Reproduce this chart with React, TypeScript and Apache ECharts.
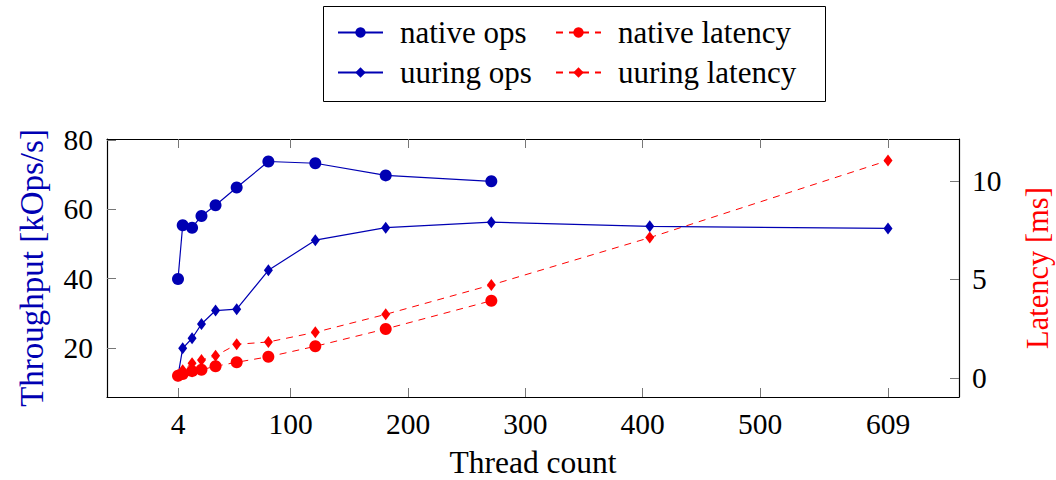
import React, { useEffect, useRef } from "react";
import * as echarts from "echarts";

const threads = [4, 8, 16, 24, 36, 54, 81, 121, 181, 271, 406, 609];
const nativeOps = [39.9, 55.4, 54.7, 58.1, 61.2, 66.3, 73.8, 73.3, 69.8, 68.1];
const uuringOps = [12.0, 19.9, 22.8, 26.9, 30.8, 31.2, 42.4, 51.1, 54.7, 56.3, 55.1, 54.5];
const nativeLatency = [0.12, 0.2, 0.35, 0.42, 0.6, 0.8, 1.08, 1.61, 2.49, 3.92];
const uuringLatency = [0.15, 0.4, 0.75, 0.91, 1.13, 1.71, 1.83, 2.32, 3.23, 4.72, 7.12, 11.03];
const xTicks = [4, 100, 200, 300, 400, 500, 609];
const opsTicks = [20, 40, 60, 80];
const latencyTicks = [0, 5, 10];

const BLUE = "#0000B3";
const RED = "#FF0000";
const FONT = "'Liberation Serif', serif";

const pairs = (ys: number[]) => ys.map((y, i) => [threads[i], y]);

export default function App() {
  const ref = useRef<HTMLDivElement>(null);
  useEffect(() => {
    if (!ref.current) return;
    const chart = echarts.init(ref.current, null, { renderer: "svg" });
    const tickStyle = { color: "#777", width: 1 };
    const legendBase = {
      orient: "horizontal" as const,
      padding: 0,
      itemWidth: 45,
      itemHeight: 13,
      textStyle: { fontFamily: FONT, fontSize: 31, color: "#000", padding: [0, 0, 0, 12] },
      selectedMode: false,
    };
    chart.setOption({
      animation: false,
      backgroundColor: "#fff",
      textStyle: { fontFamily: FONT, fontSize: 29, color: "#000" },
      grid: { left: 107, right: 97, top: 139, bottom: 83, containLabel: false, outerBoundsMode: "none" },
      legend: [
        { ...legendBase, left: 337, top: 17, data: ["native ops"] },
        { ...legendBase, left: 555, top: 17, data: ["native latency"] },
        { ...legendBase, left: 337, top: 57, data: ["uuring ops"] },
        { ...legendBase, left: 555, top: 57, data: ["uuring latency"] },
      ],
      graphic: [
        {
          type: "rect",
          shape: { x: 323.5, y: 6.5, width: 502, height: 95 },
          style: { fill: "none", stroke: "#000", lineWidth: 1 },
          z: 10,
        },
      ],
      xAxis: [
        {
          type: "value",
          min: -56.5,
          max: 669.5,
          position: "bottom",
          name: "Thread count",
          nameLocation: "middle",
          nameGap: 49,
          nameTextStyle: { fontFamily: FONT, fontSize: 31.5, color: "#000" },
          axisLine: { show: true, onZero: false, lineStyle: { color: "#000", width: 1.2 } },
          axisTick: { show: true, inside: true, length: 9, customValues: xTicks, lineStyle: tickStyle },
          axisLabel: { show: true, customValues: xTicks, margin: 12, fontFamily: FONT, fontSize: 29.5, color: "#000" },
          splitLine: { show: false },
        },
        {
          type: "value",
          min: -56.5,
          max: 669.5,
          position: "top",
          axisLine: { show: true, onZero: false, lineStyle: { color: "#000", width: 1.2 } },
          axisTick: { show: true, inside: true, length: 9, customValues: xTicks, lineStyle: tickStyle },
          axisLabel: { show: false },
          splitLine: { show: false },
        },
      ],
      yAxis: [
        {
          type: "value",
          min: 5.85,
          max: 80.3,
          position: "left",
          name: "Throughput [kOps/s]",
          nameLocation: "middle",
          nameRotate: 90,
          nameGap: 59,
          nameTextStyle: { fontFamily: FONT, fontSize: 33, color: BLUE },
          axisLine: { show: true, onZero: false, lineStyle: { color: "#000", width: 1.2 } },
          axisTick: { show: true, inside: true, length: 9, customValues: opsTicks, lineStyle: tickStyle },
          axisLabel: { show: true, customValues: opsTicks, margin: 14, fontFamily: FONT, fontSize: 29.5, color: "#000" },
          splitLine: { show: false },
        },
        {
          type: "value",
          min: -0.96,
          max: 12.12,
          position: "right",
          name: "Latency [ms]",
          nameLocation: "middle",
          nameRotate: 90,
          nameGap: 63,
          nameTextStyle: { fontFamily: FONT, fontSize: 30.5, color: RED },
          axisLine: { show: true, onZero: false, lineStyle: { color: "#000", width: 1.2 } },
          axisTick: { show: true, inside: true, length: 9, customValues: latencyTicks, lineStyle: tickStyle },
          axisLabel: { show: true, customValues: latencyTicks, margin: 13, fontFamily: FONT, fontSize: 29.5, color: "#000" },
          splitLine: { show: false },
        },
      ],
      series: [
        {
          name: "native ops",
          type: "line",
          xAxisIndex: 0,
          yAxisIndex: 0,
          data: pairs(nativeOps),
          symbol: "circle",
          symbolSize: 12,
          lineStyle: { color: BLUE, width: 1.2, type: "solid" },
          itemStyle: { color: BLUE },
          z: 2,
        },
        {
          name: "uuring ops",
          type: "line",
          xAxisIndex: 0,
          yAxisIndex: 0,
          data: pairs(uuringOps),
          symbol: "diamond",
          symbolSize: [9, 12],
          lineStyle: { color: BLUE, width: 1.2, type: "solid" },
          itemStyle: { color: BLUE },
          z: 2,
        },
        {
          name: "native latency",
          type: "line",
          xAxisIndex: 0,
          yAxisIndex: 1,
          data: pairs(nativeLatency),
          symbol: "circle",
          symbolSize: 12,
          lineStyle: { color: RED, width: 1, type: [7, 6] },
          itemStyle: { color: RED },
          z: 3,
        },
        {
          name: "uuring latency",
          type: "line",
          xAxisIndex: 0,
          yAxisIndex: 1,
          data: pairs(uuringLatency),
          symbol: "diamond",
          symbolSize: [9, 12],
          lineStyle: { color: RED, width: 1, type: [7, 6] },
          itemStyle: { color: RED },
          z: 4,
        },
      ],
    });
    return () => chart.dispose();
  }, []);
  return (
    <>
      <style>{`#root svg text { font-family: 'Liberation Serif', 'Times New Roman', serif !important; }`}</style>
      <div
        ref={ref}
        style={{ position: "absolute", left: 0, top: 0, width: 1056, height: 480, fontFamily: FONT }}
      />
    </>
  );
}
